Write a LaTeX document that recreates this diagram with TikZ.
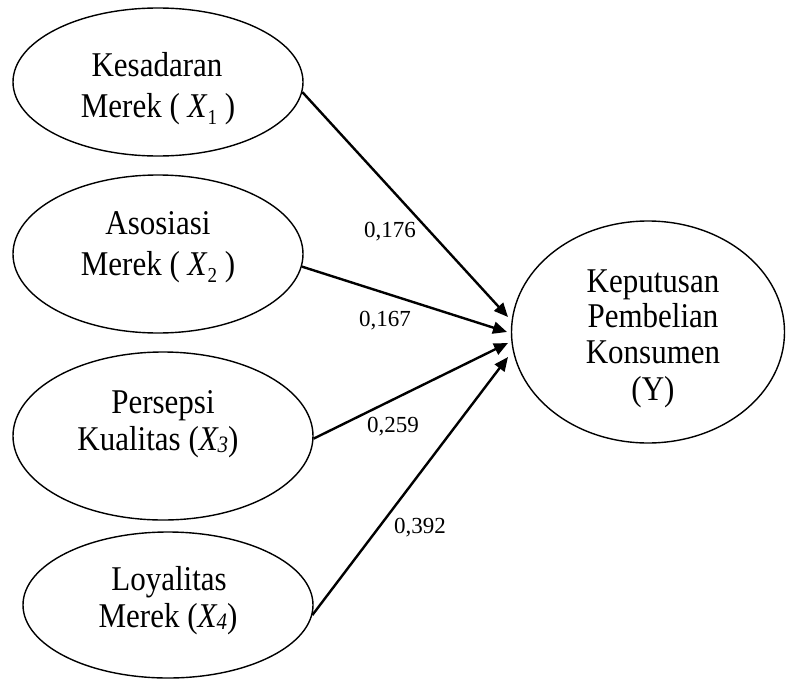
\documentclass[tikz,border=0pt]{standalone}
\usepackage{fontspec}
\setmainfont{Liberation Serif}
\usetikzlibrary{arrows.meta,shapes.geometric}
\newcommand{\subA}[1]{\textit{X}\raisebox{-7pt}{\fontsize{19}{19}\selectfont #1}}
\newcommand{\subB}[1]{\textit{X\raisebox{-2pt}{\fontsize{21}{21}\selectfont #1}}}
\newcommand{\tall}[1]{\scalebox{1}[1.12]{#1}}
\begin{document}
\begin{tikzpicture}[x=1pt,y=-1pt,
  oval/.style={draw,ellipse,line width=1.4pt,inner sep=0pt},
  txt/.style={anchor=base,inner sep=0pt,font=\fontsize{31}{36}\selectfont},
  coef/.style={anchor=base,inner sep=0pt,font=\fontsize{23}{26}\selectfont},
  path/.style={line width=2.4pt,-{Triangle[length=14pt,width=12pt]}}]
\useasboundingbox (0,0) rectangle (786,680);
% ellipses
\node[oval,minimum width=290pt,minimum height=148pt] (e1) at (158,82) {};
\node[oval,minimum width=290pt,minimum height=158pt] (e2) at (158,254) {};
\node[oval,minimum width=300pt,minimum height=168pt] (e3) at (163,436) {};
\node[oval,minimum width=290pt,minimum height=146pt] (e4) at (168,605) {};
\node[oval,minimum width=273pt,minimum height=222pt] (y) at (648,332) {};
% texts
\node[txt] (e1a) at (157,76) {\tall{Kesadaran}};
\node[txt] (e1b) at (158,117) {\tall{Merek ( \subA{1} )}};
\node[txt] (e2a) at (158,234) {\tall{Asosiasi}};
\node[txt] (e2b) at (158,275) {\tall{Merek ( \subA{2} )}};
\node[txt] (e3a) at (163,413) {\tall{Persepsi}};
\node[txt] (e3b) at (158,450) {\tall{Kualitas (\subB{3})}};
\node[txt] (e4a) at (169,590) {\tall{Loyalitas}};
\node[txt] (e4b) at (168,627) {\tall{Merek (\subB{4})}};
\node[txt] (ya) at (653,292) {\tall{Keputusan}};
\node[txt] (yb) at (653,327) {\tall{Pembelian}};
\node[txt] (yc) at (653,363) {\tall{Konsumen}};
\node[txt] (yd) at (653,400) {\tall{(Y)}};
% arrow tips
\coordinate (t1) at (508,317);
\coordinate (t2) at (507,332);
\coordinate (t3) at (508,343);
\coordinate (t4) at (508,357);
\draw[path] (e1.-4) -- (t1);
\draw[path] (e2.-5) -- (t2);
\draw[path] (e3.-1.5) -- (t3);
\draw[path] (e4.-4.5) -- (t4);
% coefficients
\node[coef] (c1) at (390,237) {0,176};
\node[coef] (c2) at (385,326) {0,167};
\node[coef] (c3) at (393,432) {0,259};
\node[coef] (c4) at (420,533) {0,392};
\end{tikzpicture}
\end{document}
